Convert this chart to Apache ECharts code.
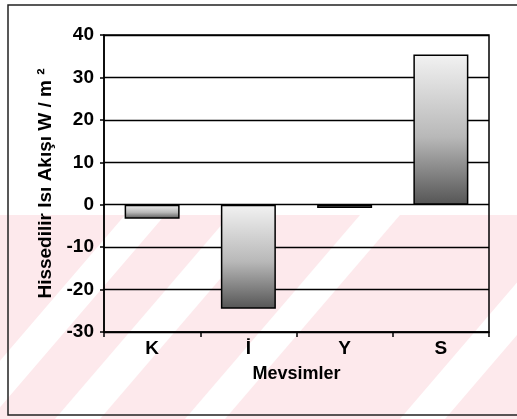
<!DOCTYPE html>
<html>
<head>
<meta charset="utf-8">
<script src="https://cdn.jsdelivr.net/npm/echarts@6/dist/echarts.min.js"></script>
<style>
html,body{margin:0;padding:0;background:#fff;}
#c{width:517px;height:419px;}
</style>
</head>
<body>
<div id="c"></div>
<script>
var categories = ['K', 'İ', 'Y', 'S'];
var values = [-3.3, -24.5, -0.8, 35.4];
var yTicks = { min: -30, max: 40, interval: 10 };
var yTitle = 'Hissedilir Isı Akışı W / m ²';
var xTitle = 'Mevsimler';

var chart = echarts.init(document.getElementById('c'), null, {renderer: 'canvas'});

var barFill = new echarts.graphic.LinearGradient(0, 0, 0, 1, [
  {offset: 0, color: '#f2f2f2'},
  {offset: 0.55, color: '#b8b8b8'},
  {offset: 1, color: '#555555'}
]);

function stripe(bx, w) {
  return {
    type: 'polygon', z: -10, silent: true,
    shape: {points: [[bx, 419], [bx + w, 419], [bx + w + 175, 215], [bx + 175, 215]]},
    style: {fill: '#ffffff'}
  };
}

var option = {
  backgroundColor: '#ffffff',
  animation: false,
  textStyle: {fontFamily: 'Liberation Sans'},
  graphic: {
    elements: [
      {type: 'rect', z: -20, silent: true, shape: {x: 0, y: 215, width: 517, height: 204}, style: {fill: '#fde9ec'}},
      stripe(-50, 40),
      stripe(55, 45),
      stripe(185, 40),
      stripe(400, 45),
      {type: 'polyline', z: 50, silent: true,
       shape: {points: [[517, 5], [8, 5], [8, 415], [517, 415]]},
       style: {stroke: '#222', lineWidth: 1.5, fill: null}}
    ]
  },
  grid: {
    left: 104, right: 28, top: 35, bottom: 87,
    show: true, borderColor: '#000', borderWidth: 1.5, backgroundColor: 'transparent'
  },
  xAxis: {
    type: 'category',
    data: categories,
    position: 'bottom',
    axisLine: {onZero: false, lineStyle: {color: '#000', width: 1.5}},
    axisTick: {show: true, length: 5, lineStyle: {color: '#000', width: 1.5}},
    axisLabel: {color: '#000', fontSize: 19, fontWeight: 'bold', margin: 7},
    name: xTitle,
    nameLocation: 'middle',
    nameGap: 33,
    nameTextStyle: {color: '#000', fontSize: 18, fontWeight: 'bold'}
  },
  yAxis: {
    type: 'value',
    min: yTicks.min, max: yTicks.max, interval: yTicks.interval,
    axisLine: {show: true, lineStyle: {color: '#000', width: 1.5}},
    axisTick: {show: true, length: 4, lineStyle: {color: '#000', width: 1.5}},
    axisLabel: {color: '#000', fontSize: 19, fontWeight: 'bold', margin: 10},
    splitLine: {show: true, lineStyle: {color: '#000', width: 1.3}},
    name: yTitle,
    nameLocation: 'middle',
    nameGap: 45,
    nameTextStyle: {color: '#000', fontSize: 19, fontWeight: 'bold'}
  },
  series: [{
    type: 'bar',
    data: values,
    barWidth: 55,
    z: 5,
    itemStyle: {color: barFill, borderColor: '#000', borderWidth: 1.5}
  }]
};
chart.setOption(option);
</script>
</body>
</html>
